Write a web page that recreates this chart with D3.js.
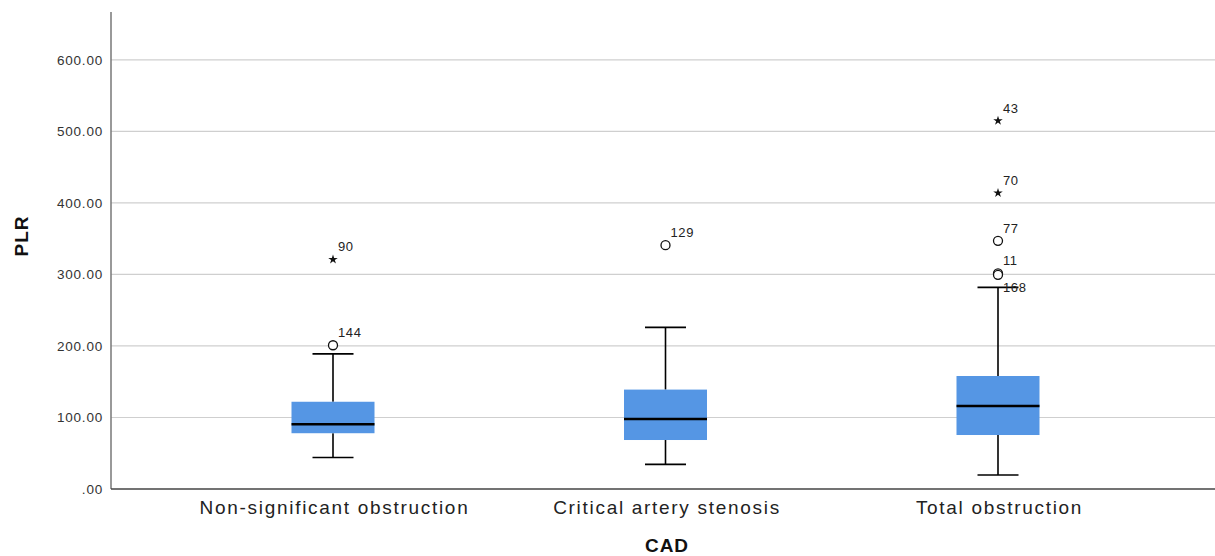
<!DOCTYPE html>
<html><head><meta charset="utf-8">
<script src="https://cdn.jsdelivr.net/npm/d3@7"></script>
<style>body{margin:0;background:#fff}svg{display:block}</style>
</head><body><svg id="c" width="1215" height="556"></svg>
<script>
const categories = ["Non-significant obstruction", "Critical artery stenosis", "Total obstruction"];
const q1 = [78, 68.5, 75.5];
const median = [90.5, 98, 116];
const q3 = [122, 139, 158];
const whiskerLow = [44, 34.5, 19.6];
const whiskerHigh = [189, 226, 282];
// outliers: category index, value, label, type, label position
const outCat = [0, 0, 1, 2, 2, 2, 2, 2];
const outVal = [321, 201, 341, 515, 414, 347, 301.5, 299.5];
const outLabel = ["90", "144", "129", "43", "70", "77", "11", "168"];
const outType = ["star", "circle", "circle", "star", "star", "circle", "circle", "circle"];
const outLabelBelow = [false, false, false, false, false, false, false, true];
const yTicks = [0, 100, 200, 300, 400, 500, 600];

const FONT = "Liberation Sans, Arial, sans-serif";
const svg = d3.select("#c");
const mLeft = 111, mRight = 1215, mTop = 12, mBottom = 489;
const y = d3.scaleLinear().domain([0, 667]).range([mBottom, mTop]);
const x = d3.scalePoint().domain(categories).range([333, 998]);
const bw = 83, cap = 41;

// gridlines
svg.append("g").selectAll("line").data(yTicks.filter(d => d > 0)).join("line")
  .attr("x1", mLeft).attr("x2", mRight).attr("y1", d => y(d)).attr("y2", d => y(d))
  .attr("stroke", "#cfcfcf").attr("stroke-width", 1.2);

// y axis
const yAxis = svg.append("g").attr("transform", `translate(${mLeft},0)`)
  .call(d3.axisLeft(y).tickValues(yTicks).tickSize(0).tickPadding(8)
    .tickFormat(d => d === 0 ? ".00" : d3.format(".2f")(d)));
yAxis.select(".domain").remove();
yAxis.selectAll("text").attr("font-family", FONT)
  .attr("font-size", 13.5).attr("letter-spacing", 0.8).attr("fill", "#333");
svg.append("line").attr("x1", mLeft).attr("x2", mLeft).attr("y1", mTop).attr("y2", mBottom)
  .attr("stroke", "#777").attr("stroke-width", 1.5);

// x axis
const xAxis = svg.append("g").attr("transform", `translate(0,${mBottom})`)
  .call(d3.axisBottom(x).tickSize(0).tickPadding(12));
xAxis.select(".domain").remove();
xAxis.selectAll("text").attr("font-family", FONT)
  .attr("font-size", 19).attr("letter-spacing", 1.7).attr("dx", 1).attr("fill", "#222");
svg.append("line").attr("x1", mLeft).attr("x2", mRight).attr("y1", mBottom).attr("y2", mBottom)
  .attr("stroke", "#444").attr("stroke-width", 1.5);

// boxes
const g = svg.append("g");
categories.forEach((c, i) => {
  const cx = x(c);
  g.append("line").attr("x1", cx).attr("x2", cx).attr("y1", y(whiskerHigh[i])).attr("y2", y(q3[i]))
    .attr("stroke", "#000").attr("stroke-width", 1.6);
  g.append("line").attr("x1", cx).attr("x2", cx).attr("y1", y(q1[i])).attr("y2", y(whiskerLow[i]))
    .attr("stroke", "#000").attr("stroke-width", 1.6);
  [whiskerHigh[i], whiskerLow[i]].forEach(v => {
    g.append("line").attr("x1", cx - cap / 2).attr("x2", cx + cap / 2).attr("y1", y(v)).attr("y2", y(v))
      .attr("stroke", "#000").attr("stroke-width", 1.6);
  });
  g.append("rect").attr("x", cx - bw / 2).attr("width", bw).attr("y", y(q3[i]))
    .attr("height", y(q1[i]) - y(q3[i])).attr("fill", "#5596e4");
  g.append("line").attr("x1", cx - bw / 2).attr("x2", cx + bw / 2).attr("y1", y(median[i])).attr("y2", y(median[i]))
    .attr("stroke", "#000").attr("stroke-width", 2.5);
});

// outliers
outVal.forEach((v, k) => {
  const cx = x(categories[outCat[k]]), cy = y(v);
  if (outType[k] === "star") {
    g.append("path").attr("d", d3.symbol(d3.symbolStar, 28)())
      .attr("transform", `translate(${cx},${cy})`).attr("fill", "#111");
  } else {
    g.append("circle").attr("cx", cx).attr("cy", cy).attr("r", 4.5)
      .attr("fill", "#fff").attr("stroke", "#111").attr("stroke-width", 1.3);
  }
  g.append("text").attr("x", cx + 5).attr("y", outLabelBelow[k] ? cy + 17 : cy - 8)
    .attr("font-family", FONT).attr("font-size", 13).attr("letter-spacing", 0.6)
    .attr("fill", "#222").text(outLabel[k]);
});

// titles
svg.append("text").attr("transform", "translate(28,236) rotate(-90)").attr("text-anchor", "middle")
  .attr("font-family", FONT).attr("font-size", 19).attr("font-weight", "bold").attr("letter-spacing", 1)
  .attr("fill", "#111").text("PLR");
svg.append("text").attr("x", 667).attr("y", 552).attr("text-anchor", "middle")
  .attr("font-family", FONT).attr("font-size", 19).attr("font-weight", "bold").attr("letter-spacing", 1)
  .attr("fill", "#111").text("CAD");
</script></body></html>
